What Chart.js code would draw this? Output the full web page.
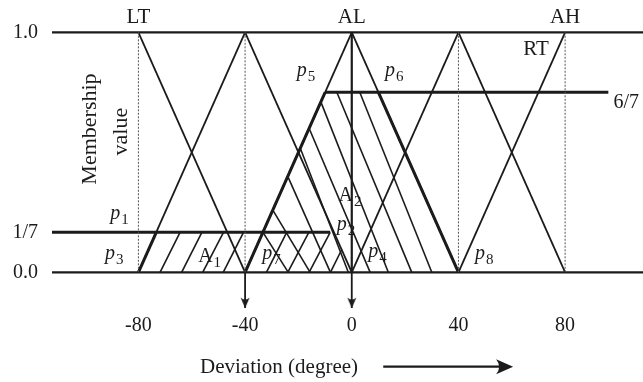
<!DOCTYPE html>
<html><head><meta charset="utf-8">
<script src="https://cdn.jsdelivr.net/npm/chart.js@4.4.1/dist/chart.umd.min.js"></script>
<style>html,body{margin:0;padding:0;background:#fff;overflow:hidden}canvas{display:block}</style>
</head><body>
<canvas id="chart" width="643" height="382"></canvas>
<script>
// ---------------- data ----------------
const xTickValues = [-80, -40, 0, 40, 80];
const yTickValues = [0, 0.1667, 1];          // "1/7" level as drawn
const yTickLabels = ['0.0', '1/7', '1.0'];
const xExtent = [-112.4, 109.2];
const yExtent = [-0.157, 1.1346];

// segments: [x1, y1, x2, y2]
const mfEdges = [
  [-80, 1, -40, 0], [-80, 0, -40, 1], [-40, 1, 0, 0], [-40, 0, 0, 1],
  [0, 1, 40, 0], [0, 0, 40, 1], [40, 1, 80, 0], [40, 0, 80, 1]
];
const frameLines = [[-112.4, 1, 109.2, 1], [-112.4, 0, 109.2, 0]];
const guideLines = [[-80, 1, -80, 0], [-40, 1, -40, 0], [40, 1, 40, 0], [80, 1, 80, 0]];
const cutLines = [[-112.4, 0.1667, -8.1, 0.1667], [-10, 0.75, 96.2, 0.75]];
const thickEdges = [[-80, 0, -73.3, 0.1667], [-40, 0, -10, 0.75], [10, 0.75, 40, 0]];
const centerLine = [[0, 1, 0, 0]];
const arrowShafts = [[-40, 0, -40, -0.149], [0, 0, 0, -0.149]];
const arrowTipsX = [-40, 0];
const arrowTipsY = [-0.149, -0.149];
const hatchA1 = [
  [-71.9, 0, -64.4, 0.1667], [-63.8, 0, -56.2, 0.1667], [-55.9, 0, -48.1, 0.1667],
  [-48.2, 0, -40.6, 0.1667], [-32, 0, -24.4, 0.1667], [-24, 0, -16.1, 0.1667],
  [-16, 0, -8.1, 0.1667], [-8, 0, -3.8, 0.094]
];
const hatchA2 = [
  [3, 0.75, 30, 0], [-5.6, 0.75, 22.5, 0], [-11.6, 0.71, 13.7, 0], [-16, 0.6, 6.9, 0],
  [-19.3, 0.517, -1.3, 0], [-24, 0.4, -8, 0], [-29.6, 0.259, -15.6, 0], [-33.3, 0.1667, -23.8, 0]
];

// ---------------- text annotations (positions in data units) ----------------
const plainLabels = [
  { text: 'LT', x: -80, y: 1.0375, align: 'center', size: 21 },
  { text: 'AL', x: 0, y: 1.0375, align: 'center', size: 21 },
  { text: 'AH', x: 80, y: 1.0375, align: 'center', size: 21 },
  { text: 'RT', x: 64.3, y: 0.905, align: 'left', size: 21 },
  { text: '6/7', x: 98.1, y: 0.683, align: 'left', size: 20 }
];
const subLabels = [
  { main: 'p', sub: '1', x: -90.6, y: 0.222, italic: true },
  { main: 'p', sub: '3', x: -92.5, y: 0.055, italic: true },
  { main: 'p', sub: '7', x: -33.6, y: 0.055, italic: true },
  { main: 'p', sub: '2', x: -5.6, y: 0.176, italic: true },
  { main: 'p', sub: '4', x: 6.2, y: 0.0625, italic: true },
  { main: 'p', sub: '8', x: 46.2, y: 0.055, italic: true },
  { main: 'p', sub: '5', x: -20.6, y: 0.819, italic: true },
  { main: 'p', sub: '6', x: 12.5, y: 0.819, italic: true },
  { main: 'A', sub: '1', x: -57.6, y: 0.044, italic: false },
  { main: 'A', sub: '2', x: -5.0, y: 0.299, italic: false }
];
const yTitleLines = [
  { text: 'Membership', x: -95.9, y: 0.597 },
  { text: 'value', x: -84.4, y: 0.586 }
];
const xTitle = { text: 'Deviation (degree)', x: -56.9, arrowFrom: 11.8, arrowTo: 60.5 };

// ---------------- styling ----------------
const INK = '#1b1b1b';
const SERIF = '"Liberation Serif", "Times New Roman", Times, serif';

function makeArrowHead() {
  const c = document.createElement('canvas');
  c.width = 12; c.height = 24;
  const g = c.getContext('2d');
  g.fillStyle = INK;
  g.beginPath();
  g.moveTo(6, 12);
  g.lineTo(1.5, 1.5);
  g.quadraticCurveTo(6, 5.5, 10.5, 1.5);
  g.closePath();
  g.fill();
  return c;
}

function segData(s) { return [{ x: s[0], y: s[1] }, { x: s[2], y: s[3] }]; }
function group(list, style) {
  return list.map(s => Object.assign({
    data: segData(s), showLine: true, pointRadius: 0, borderColor: INK,
    fill: false, tension: 0, borderCapStyle: 'butt'
  }, style));
}

const datasets = [
  ...group(guideLines, { borderWidth: 1, borderColor: '#555', borderDash: [2, 1.5] }),
  ...group(hatchA1, { borderWidth: 1.6 }),
  ...group(hatchA2, { borderWidth: 1.6 }),
  ...group(mfEdges, { borderWidth: 1.8 }),
  ...group(frameLines, { borderWidth: 2.2 }),
  ...group(centerLine, { borderWidth: 2.2 }),
  ...group(arrowShafts, { borderWidth: 1.8 }),
  ...group(cutLines, { borderWidth: 3 }),
  ...group(thickEdges, { borderWidth: 3 }),
  {
    data: arrowTipsX.map((x, i) => ({ x, y: arrowTipsY[i] })),
    showLine: false, pointRadius: 6, pointStyle: makeArrowHead()
  }
];

const annot = {
  id: 'annot',
  afterDatasetsDraw(chart) {
    const { ctx, scales: { x, y }, chartArea } = chart;
    ctx.save();
    ctx.fillStyle = INK;
    ctx.strokeStyle = INK;
    ctx.textBaseline = 'alphabetic';
    plainLabels.forEach(l => {
      ctx.font = `${l.size}px ${SERIF}`;
      ctx.textAlign = l.align;
      ctx.fillText(l.text, x.getPixelForValue(l.x), y.getPixelForValue(l.y));
    });
    subLabels.forEach(l => {
      const px = x.getPixelForValue(l.x), py = y.getPixelForValue(l.y);
      ctx.textAlign = 'left';
      ctx.font = `${l.italic ? 'italic ' : ''}20px ${SERIF}`;
      ctx.fillText(l.main, px, py);
      const w = ctx.measureText(l.main).width;
      ctx.font = `15px ${SERIF}`;
      ctx.fillText(l.sub, px + w + 1, py + 5);
    });
    // rotated y-axis title inside the plot
    ctx.font = `22px ${SERIF}`;
    ctx.textAlign = 'center';
    yTitleLines.forEach(l => {
      ctx.save();
      ctx.translate(x.getPixelForValue(l.x), y.getPixelForValue(l.y));
      ctx.rotate(-Math.PI / 2);
      ctx.fillText(l.text, 0, 0);
      ctx.restore();
    });
    // x-axis title with arrow
    const ty = chartArea.bottom + 62.7;
    ctx.font = `21px ${SERIF}`;
    ctx.textAlign = 'left';
    ctx.fillText(xTitle.text, x.getPixelForValue(xTitle.x), ty);
    const ay = chartArea.bottom + 56.7;
    const ax0 = x.getPixelForValue(xTitle.arrowFrom), ax1 = x.getPixelForValue(xTitle.arrowTo);
    ctx.lineWidth = 2.2;
    ctx.beginPath();
    ctx.moveTo(ax0, ay);
    ctx.lineTo(ax1 - 10, ay);
    ctx.stroke();
    ctx.beginPath();
    ctx.moveTo(ax1, ay);
    ctx.lineTo(ax1 - 17, ay - 7.5);
    ctx.quadraticCurveTo(ax1 - 11, ay, ax1 - 17, ay + 7.5);
    ctx.closePath();
    ctx.fill();
    ctx.restore();
  }
};

new Chart(document.getElementById('chart'), {
  type: 'scatter',
  data: { datasets },
  options: {
    responsive: false,
    maintainAspectRatio: false,
    devicePixelRatio: 1,
    animation: false,
    events: [],
    layout: { padding: 0, autoPadding: false },
    plugins: { legend: { display: false }, tooltip: { enabled: false } },
    scales: {
      x: {
        type: 'linear', min: xExtent[0], max: xExtent[1],
        afterBuildTicks: s => { s.ticks = xTickValues.map(v => ({ value: v })); },
        afterFit: s => { s.height = 72; s.paddingLeft = 0; s.paddingRight = 0; },
        grid: { display: false, drawTicks: false },
        border: { display: false },
        ticks: {
          padding: 4, autoSkip: false, maxRotation: 0, color: INK,
          font: { family: SERIF, size: 20 },
          callback: v => String(v)
        }
      },
      y: {
        type: 'linear', min: yExtent[0], max: yExtent[1],
        afterBuildTicks: s => { s.ticks = yTickValues.map(v => ({ value: v })); },
        afterFit: s => { s.width = 52; s.paddingTop = 0; s.paddingBottom = 0; },
        grid: { display: false, drawTicks: false },
        border: { display: false },
        ticks: {
          padding: 14, autoSkip: false, color: INK,
          font: { family: SERIF, size: 20 },
          callback: (v, i) => yTickLabels[i]
        }
      }
    }
  },
  plugins: [annot]
});
</script>
</body></html>
